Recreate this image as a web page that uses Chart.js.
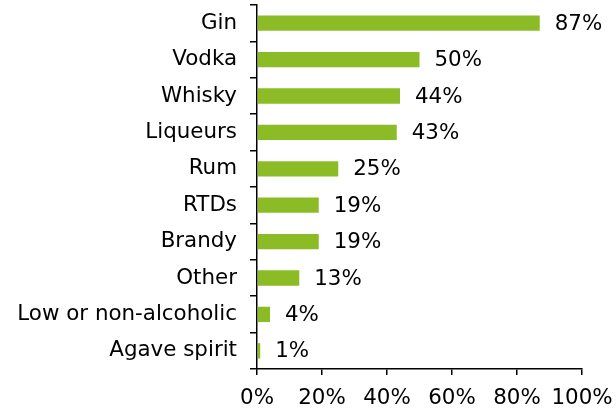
<!DOCTYPE html>
<html>
<head>
<meta charset="utf-8">
<script src="https://cdn.jsdelivr.net/npm/chart.js@4.4.1/dist/chart.umd.min.js"></script>
<style>
  html, body { margin: 0; padding: 0; background: #fff; }
  #wrap { width: 616px; height: 410px; }
</style>
</head>
<body>
<div id="wrap"><canvas id="myChart" width="616" height="410"></canvas></div>
<script>
const categories = ['Gin', 'Vodka', 'Whisky', 'Liqueurs', 'Rum', 'RTDs', 'Brandy', 'Other', 'Low or non-alcoholic', 'Agave spirit'];
const shares = [87, 50, 44, 43, 25, 19, 19, 13, 4, 1];
const xTicks = [0, 20, 40, 60, 80, 100];

const FONT = { family: '"DejaVu Sans", Verdana, sans-serif', size: 21.4 };

// writes "NN%" just past the end of each bar
const valueLabels = {
  id: 'valueLabels',
  afterDatasetsDraw(chart) {
    const ctx = chart.ctx;
    const meta = chart.getDatasetMeta(0);
    ctx.save();
    ctx.font = FONT.size + 'px ' + FONT.family;
    ctx.fillStyle = '#000';
    ctx.textAlign = 'left';
    ctx.textBaseline = 'middle';
    meta.data.forEach((bar, i) => {
      ctx.fillText(shares[i] + '%', bar.x + 15, bar.y + 1);
    });
    ctx.restore();
  }
};

new Chart(document.getElementById('myChart'), {
  type: 'bar',
  data: {
    labels: categories,
    datasets: [{
      data: shares,
      backgroundColor: '#8bbc26',
      borderWidth: 0,
      categoryPercentage: 1,
      barPercentage: 0.42
    }]
  },
  options: {
    indexAxis: 'y',
    responsive: false,
    animation: false,
    layout: { padding: { top: 5, right: 34, left: 0, bottom: 0 } },
    plugins: {
      legend: { display: false },
      tooltip: { enabled: false }
    },
    scales: {
      x: {
        min: 0,
        max: 100,
        afterBuildTicks: (scale) => { scale.ticks = xTicks.map(v => ({ value: v })); },
        afterFit: (scale) => {
          scale.height = 41;
          // let "100%" hang past the plot edge
          scale.paddingLeft = 0;
          scale.paddingRight = 0;
        },
        border: { color: '#000', width: 1.5 },
        grid: { drawOnChartArea: false, tickLength: 6, color: '#000', lineWidth: 1.5 },
        ticks: {
          color: '#000',
          font: FONT,
          padding: 11,
          maxRotation: 0,
          callback: (v) => v + '%'
        }
      },
      y: {
        afterFit: (scale) => {
          scale.width = 257;
          // no extra room above/below the first and last category labels
          scale.paddingTop = 0;
          scale.paddingBottom = 0;
        },
        border: { color: '#000', width: 1.5 },
        grid: { offset: true, drawOnChartArea: false, tickLength: 7, color: '#000', lineWidth: 1.5 },
        ticks: { color: '#000', font: FONT, padding: 13 }
      }
    }
  },
  plugins: [valueLabels]
});
</script>
</body>
</html>
